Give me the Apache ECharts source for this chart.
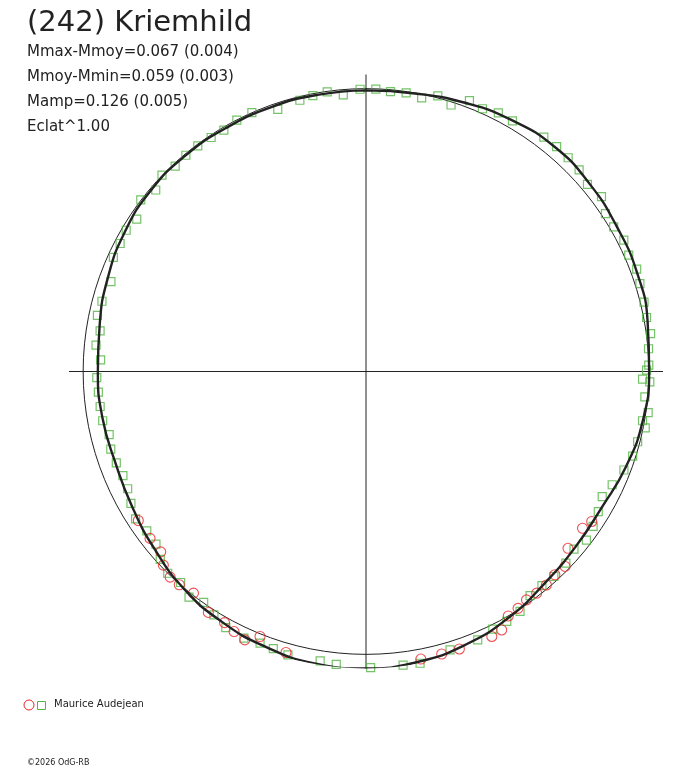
<!DOCTYPE html>
<html>
<head>
<meta charset="utf-8">
<script src="https://cdn.jsdelivr.net/npm/echarts@6/dist/echarts.min.js"></script>
<style>
html,body{margin:0;padding:0;background:#fff;}
#chart{width:688px;height:768px;}
</style>
</head>
<body>
<div id="chart"></div>
<script>
// Title and stats
const titleText = "(242) Kriemhild";
const statLines = ["Mmax-Mmoy=0.067 (0.004)", "Mmoy-Mmin=0.059 (0.003)", "Mamp=0.126 (0.005)", "Eclat^1.00"];
const observerName = "Maurice Audejean";
const copyrightText = "\u00A92026 OdG-RB";

// Fitted curve: phase angle (deg, clockwise from top) and relative flux (reference circle = 1)
const fitAngle = [0,10,20,30,40,50,60,70,80,90,100,110,120,130,140,150,160,170,180,190,200,210,220,230,240,250,260,270,280,290,300,310,320,330,340,350,360];
const fitFlux  = [0.994,0.998,1.012,1.027,1.037,1.032,1.024,1.020,1.011,1.001,0.994,0.979,0.962,0.966,0.980,1.006,1.028,1.043,1.050,1.048,1.036,1.021,1.002,0.976,0.955,0.943,0.946,0.948,0.956,0.971,0.985,0.994,0.995,0.993,0.993,0.993,0.994];

// Session 1 (green squares)
const greenAngle = [346.3,349.1,352.1,355.3,358.8,2.0,5.0,8.2,11.5,14.6,17.7,20.9,23.9,27.1,30.3,37.2,40.3,43.4,46.6,49.8,53.4,56.6,59.7,63.0,66.1,69.3,72.2,76.0,79.1,82.4,85.4,88.7,89.7,91.6,92.1,95.2,98.3,100.1,101.4,104.5,107.6,110.9,114.7,117.9,121.1,124.3,127.4,130.5,133.8,137.5,140.6,143.8,147.3,150.6,153.8,157.4,163.2,166.6,169.5,172.8,175.9,179.1,182.3,185.8,189.0,192.2,195.4,198.5,201.3,204.6,208.7,212.0,215.1,218.1,221.3,224.5,227.6,230.6,234.0,237.4,240.7,243.8,246.8,249.9,253.1,256.2,259.4,262.5,265.6,268.7,272.5,275.6,278.7,281.8,284.9,289.4,294.3,297.5,300.5,303.6,307.3,310.8,313.9,317.1,320.2,323.3,326.5,329.5,332.8,336.2,341.4];
const greenFlux  = [0.987,0.993,0.998,0.981,0.998,0.999,0.993,0.995,0.987,1.007,0.989,1.025,1.016,1.027,1.026,1.040,1.042,1.040,1.037,1.025,1.037,1.014,1.014,1.023,1.016,1.023,1.017,1.013,1.010,1.015,1.002,1.000,0.992,0.978,1.004,0.990,1.008,0.993,1.007,0.992,0.989,0.976,0.958,0.945,0.959,0.972,0.981,0.967,0.979,0.983,0.980,0.982,1.008,1.014,1.015,1.028,1.028,1.054,1.049,1.046,1.054,1.047,1.055,1.041,1.036,1.061,1.039,1.033,1.031,1.037,1.032,1.015,0.998,1.014,0.993,1.000,0.985,0.961,0.958,0.967,0.953,0.939,0.935,0.940,0.943,0.935,0.947,0.948,0.949,0.952,0.939,0.959,0.951,0.970,0.966,0.956,0.980,0.980,0.984,0.973,1.001,0.982,1.001,0.991,0.995,0.995,0.992,0.990,0.999,1.000,0.978];

// Session 2 (red circles)
const redAngle = [123.6,125.9,131.2,134.4,137.1,139.8,142.4,144.9,147.3,149.8,152.3,154.6,161.4,165.0,169.2,175.1,177.8,185.1,190.9,195.9,199.6,201.8,204.3,206.9,209.4,213.2,217.9,221.2,223.6,226.3,228.7,232.3,236.8];
const redFlux  = [0.958,0.945,0.949,0.985,0.981,0.988,0.989,0.987,0.995,1.000,1.032,1.037,1.035,1.034,1.035,1.065,1.053,1.057,1.062,1.033,1.051,1.009,1.041,1.031,1.019,1.018,0.993,1.002,1.004,0.991,0.966,0.965,0.962];

const refLevel = 1.0;
const radiusMax = 1.05;

const GREEN = '#52b442';
const RED = '#e8262a';
const INK = '#222222';

const chart = echarts.init(document.getElementById('chart'), null, {renderer: 'canvas'});

const graphics = [
  {type: 'text', left: 27, top: 9, style: {text: titleText, font: '29px "DejaVu Sans"', fill: INK}},
];
statLines.forEach((t, i) => {
  graphics.push({type: 'text', left: 27, top: 45 + i * 25, style: {text: t, font: '15px "DejaVu Sans"', fill: INK}});
});
graphics.push({type: 'circle', shape: {cx: 29, cy: 705, r: 5}, style: {fill: 'none', stroke: RED, lineWidth: 1}});
graphics.push({type: 'rect', shape: {x: 37.5, y: 701.5, width: 8, height: 8}, style: {fill: 'none', stroke: GREEN, lineWidth: 1}});
graphics.push({type: 'text', left: 54, top: 699, style: {text: observerName, font: '10px "DejaVu Sans"', fill: INK}});
graphics.push({type: 'text', left: 27, top: 759, style: {text: copyrightText, font: '8px "DejaVu Sans"', fill: INK}});

chart.setOption({
  animation: false,
  backgroundColor: '#ffffff',
  polar: {center: [366, 371.5], radius: 297},
  angleAxis: {
    type: 'value', min: 0, max: 360, interval: 90, startAngle: 90, clockwise: true,
    axisLine: {show: false}, axisTick: {show: false}, axisLabel: {show: false},
    splitLine: {show: true, lineStyle: {color: INK, width: 1}}
  },
  radiusAxis: {
    type: 'value', min: 0, max: radiusMax, interval: refLevel,
    axisLine: {show: false}, axisTick: {show: false}, axisLabel: {show: false},
    splitLine: {show: true, lineStyle: {color: ['rgba(0,0,0,0)', INK, 'rgba(0,0,0,0)'], width: 1}}
  },
  graphic: graphics,
  series: [
    {
      type: 'scatter', coordinateSystem: 'polar', name: 'session1',
      symbol: 'rect', symbolSize: 8,
      itemStyle: {color: 'rgba(0,0,0,0)', borderColor: GREEN, borderWidth: 1.2},
      data: greenAngle.map((a, i) => [greenFlux[i], a]), z: 2
    },
    {
      type: 'scatter', coordinateSystem: 'polar', name: 'session2',
      symbol: 'circle', symbolSize: 10,
      itemStyle: {color: 'rgba(0,0,0,0)', borderColor: RED, borderWidth: 1.1},
      data: redAngle.map((a, i) => [redFlux[i], a]), z: 2
    },
    {
      type: 'line', coordinateSystem: 'polar', name: 'fit',
      smooth: true, symbol: 'none', clip: false,
      lineStyle: {color: INK, width: 2.4},
      data: fitAngle.map((a, i) => [fitFlux[i], a]), z: 3
    }
  ]
});
</script>
</body>
</html>
